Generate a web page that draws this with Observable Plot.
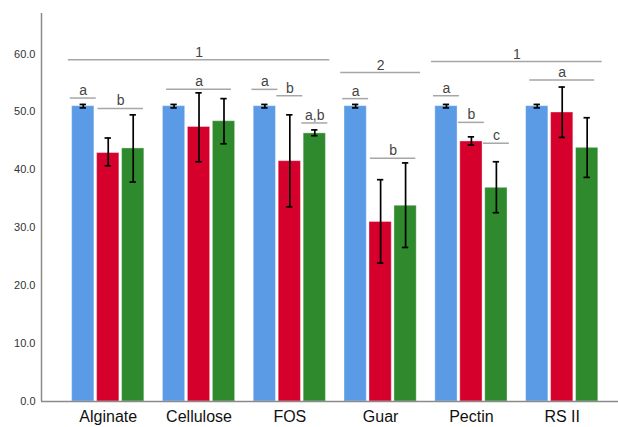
<!DOCTYPE html>
<html><head><meta charset="utf-8">
<script src="https://cdn.jsdelivr.net/npm/d3@7"></script>
<script src="https://cdn.jsdelivr.net/npm/@observablehq/plot@0.6"></script>
<style>html,body{margin:0;padding:0;background:#fff}#chart svg{display:block}</style>
</head><body><div id="chart"></div>
<script>
// ---- data ----
const categories = ["Alginate", "Cellulose", "FOS", "Guar", "Pectin", "RS II"];
const seriesNames = ["Series 1", "Series 2", "Series 3"];
const seriesColors = ["#5b9be6", "#d5002c", "#2e8a2c"];

const mean1 = [51.0, 51.0, 51.0, 51.0, 51.0, 51.0];
const lo1   = [50.7, 50.7, 50.7, 50.7, 50.7, 50.7];
const hi1   = [51.3, 51.3, 51.3, 51.3, 51.3, 51.3];

const mean2 = [42.9, 47.4, 41.5, 31.0, 44.9, 49.9];
const lo2   = [40.7, 41.4, 33.6, 23.9, 44.3, 45.6];
const hi2   = [45.5, 53.3, 49.5, 38.3, 45.7, 54.3];

const mean3 = [43.7, 48.4, 46.3, 33.8, 36.9, 43.8];
const lo3   = [37.9, 44.5, 45.9, 26.6, 32.6, 38.7];
const hi3   = [49.5, 52.3, 46.9, 41.2, 41.4, 49.0];

// significance letters within each category (bars from..to, 0-based series)
const letterCat   = ["Alginate", "Alginate", "Cellulose", "FOS", "FOS", "FOS", "Guar", "Guar", "Pectin", "Pectin", "Pectin", "RS II"];
const letterFrom  = [0, 1, 0, 0, 1, 2, 0, 1, 0, 1, 2, 0];
const letterTo    = [0, 2, 2, 0, 1, 2, 0, 2, 0, 1, 2, 2];
const letterLevel = [52.4, 50.6, 53.9, 53.9, 52.8, 48.1, 52.3, 42.0, 52.8, 48.2, 44.6, 55.5];
const letterText  = ["a", "b", "a", "a", "b", "a,b", "a", "b", "a", "b", "c", "a"];

// group-level significance (numbers)
const groupFrom  = ["Alginate", "Guar", "Pectin"];
const groupTo    = ["FOS", "Guar", "RS II"];
const groupLevel = [59.0, 56.8, 58.7];
const groupText  = ["1", "2", "1"];

const yTicks = [0, 10, 20, 30, 40, 50, 60];

// ---- layout helpers (in x-scale units: one unit per category) ----
const barStep = 0.275, barWidth = 0.245, capHalf = 0.035;
const catIndex = c => categories.indexOf(c);
const center = (ci, s) => ci + 0.5 + (s - 1) * barStep;

const seriesData = [[mean1, lo1, hi1], [mean2, lo2, hi2], [mean3, lo3, hi3]];
const rows = [];
categories.forEach((c, i) => {
  seriesData.forEach(([m, l, h], s) => {
    rows.push({cat: c, ci: i, s, series: seriesNames[s], mean: m[i], lo: l[i], hi: h[i]});
  });
});

const letters = letterCat.map((c, k) => {
  const ci = catIndex(c), n = letterTo[k] - letterFrom[k] + 1;
  const mid = (center(ci, letterFrom[k]) + center(ci, letterTo[k])) / 2;
  const half = 0.143 + 0.107 * (n - 1);
  return {x1: mid - half, x2: mid + half, xm: mid, y: letterLevel[k], label: letterText[k]};
});

const groups = groupFrom.map((c, k) => {
  const a = catIndex(c) + 0.5, b = catIndex(groupTo[k]) + 0.5;
  return {x1: a - 0.44, x2: b + 0.44, xm: (a + b) / 2, y: groupLevel[k], label: groupText[k]};
});

const xDomain = [-0.235, 6.12];
const font = "'Liberation Sans', Arial, sans-serif";

const chart = Plot.plot({
  width: 618,
  height: 427,
  marginLeft: 41,
  marginRight: 0,
  marginTop: 13,
  marginBottom: 26,
  style: {fontFamily: font, background: "#fff"},
  x: {type: "linear", domain: xDomain},
  y: {domain: [0, 67]},
  color: {domain: seriesNames, range: seriesColors},
  marks: [
    Plot.rectY(rows, {
      x1: d => center(d.ci, d.s) - barWidth / 2,
      x2: d => center(d.ci, d.s) + barWidth / 2,
      y1: () => 0, y2: "mean", fill: "series",
      stroke: "#ffffff", strokeOpacity: 0.35, strokeWidth: 1
    }),
    Plot.ruleX(rows, {x: d => center(d.ci, d.s), y1: "lo", y2: "hi", stroke: "#000", strokeWidth: 1.7}),
    Plot.ruleY(rows, {x1: d => center(d.ci, d.s) - capHalf, x2: d => center(d.ci, d.s) + capHalf, y: "lo", stroke: "#000", strokeWidth: 1.7}),
    Plot.ruleY(rows, {x1: d => center(d.ci, d.s) - capHalf, x2: d => center(d.ci, d.s) + capHalf, y: "hi", stroke: "#000", strokeWidth: 1.7}),
    Plot.ruleY(letters, {x1: "x1", x2: "x2", y: "y", stroke: "#a6a6a6", strokeWidth: 1.5}),
    Plot.text(letters, {x: "xm", y: "y", text: "label", lineAnchor: "bottom", dy: -3, fontSize: 14, fill: "#444"}),
    Plot.ruleY(groups, {x1: "x1", x2: "x2", y: "y", stroke: "#a6a6a6", strokeWidth: 1.5}),
    Plot.text(groups, {x: "xm", y: "y", text: "label", lineAnchor: "bottom", dy: -3, fontSize: 14, fill: "#444"}),
    Plot.ruleY([0], {stroke: "#8a8a8a", strokeWidth: 1.5}),
    Plot.ruleX([xDomain[0]], {stroke: "#8a8a8a", strokeWidth: 1.5}),
    Plot.axisY({ticks: yTicks, tickFormat: d3.format(".1f"), tickSize: 0, tickPadding: 6, fontSize: 11, color: "#333", label: null}),
    Plot.axisX({ticks: categories.map((c, i) => i + 0.5), tickFormat: v => categories[Math.floor(v)], tickSize: 0, tickPadding: 9, fontSize: 16, color: "#111", label: null})
  ]
});
document.getElementById("chart").appendChild(chart);
</script>
</body></html>
